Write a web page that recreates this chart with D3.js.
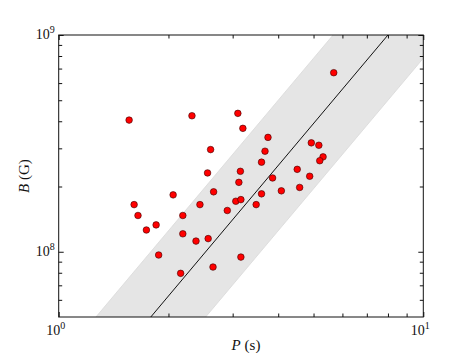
<!DOCTYPE html>
<html>
<head>
<meta charset="utf-8">
<script src="https://cdn.jsdelivr.net/npm/d3@7"></script>
<style>
	body { margin: 0; background: #fff; }
	svg text { font-family: 'Liberation Serif', 'DejaVu Serif', serif; fill: #111; }
</style>
</head>
<body>
<svg id="chart" width="471" height="353"></svg>
<script>
// spin period P (s)
const periods = [
	1.56, 2.32, 2.61, 2.56, 5.68, 3.10, 3.20, 3.75, 3.68, 3.60, 3.15,
	4.93, 5.17, 5.31, 5.20, 4.51, 4.88, 3.86, 2.06, 2.66, 1.61, 2.44,
	1.65, 2.19, 2.90, 1.85, 1.74, 2.19, 2.57, 2.38, 1.88, 2.65, 2.16,
	3.12, 3.60, 4.08, 4.58, 3.06, 3.16, 3.48, 3.16
]
// dipole field B (G)
const fields = [
	4.05e8, 4.24e8, 2.96e8, 2.31e8, 6.70e8, 4.35e8, 3.71e8, 3.37e8, 2.91e8, 2.59e8, 2.35e8,
	3.18e8, 3.10e8, 2.74e8, 2.63e8, 2.40e8, 2.23e8, 2.19e8, 1.83e8, 1.89e8, 1.65e8, 1.65e8,
	1.47e8, 1.47e8, 1.55e8, 1.33e8, 1.26e8, 1.21e8, 1.15e8, 1.12e8, 9.66e7, 8.50e7, 7.95e7,
	2.09e8, 1.85e8, 1.91e8, 1.98e8, 1.71e8, 1.74e8, 1.65e8, 9.45e7
]
// fit B = fitCoef * P^fitIndex, shaded band a factor bandFactor either side
const fitCoef = 1.5625e7
const fitIndex = 2
const bandFactor = 2

const xDomain = [1, 10]
const yDomain = [5e7, 1e9]
const xMajor = [1, 10]
const xMajorExp = ['0', '1']
const yMajor = [1e8, 1e9]
const yMajorExp = ['8', '9']
const xMinor = [2, 3, 4, 5, 6, 7, 8, 9]
const yMinor = [6e7, 7e7, 8e7, 9e7, 2e8, 3e8, 4e8, 5e8, 6e8, 7e8, 8e8, 9e8]

const margin = { top: 35, right: 47.7, bottom: 36, left: 58.7 }
const width = 471 - margin.left - margin.right
const height = 353 - margin.top - margin.bottom

const svg = d3.select('#chart')
const g = svg.append('g').attr('transform', `translate(${margin.left},${margin.top})`)

const x = d3.scaleLog().domain(xDomain).range([0, width])
const y = d3.scaleLog().domain(yDomain).range([height, 0])

g.append('clipPath').attr('id', 'clip')
	.append('rect').attr('width', width).attr('height', height)

const fit = (p, f) => fitCoef * f * Math.pow(p, fitIndex)
const line = d3.line().x(d => x(d[0])).y(d => y(d[1]))

// band
const bandPts = [
	[xDomain[0], fit(xDomain[0], bandFactor)],
	[xDomain[1], fit(xDomain[1], bandFactor)],
	[xDomain[1], fit(xDomain[1], 1 / bandFactor)],
	[xDomain[0], fit(xDomain[0], 1 / bandFactor)]
]
const plot = g.append('g').attr('clip-path', 'url(#clip)')
plot.append('path')
	.attr('d', line(bandPts) + 'Z')
	.attr('fill', '#e5e5e5')
	.attr('stroke', '#d9d9d9')
	.attr('stroke-width', 0.8)

plot.append('path')
	.attr('d', line([[xDomain[0], fit(xDomain[0], 1)], [xDomain[1], fit(xDomain[1], 1)]]))
	.attr('fill', 'none')
	.attr('stroke', '#111')
	.attr('stroke-width', 1)

// points
plot.selectAll('circle')
	.data(periods.map((p, i) => [p, fields[i]]))
	.enter()
	.append('circle')
	.attr('cx', d => x(d[0]))
	.attr('cy', d => y(d[1]))
	.attr('r', 3.3)
	.attr('fill', '#ff0000')
	.attr('stroke', '#3a0000')
	.attr('stroke-width', 0.6)

// ticks, inward on all four sides
const majorLen = 5, minorLen = 3.5
const axes = [
	{ axis: d3.axisBottom(x), tr: `translate(0,${height})`, dir: 1 },
	{ axis: d3.axisTop(x), tr: 'translate(0,0)', dir: 1 },
	{ axis: d3.axisLeft(y), tr: 'translate(0,0)', dir: 0 },
	{ axis: d3.axisRight(y), tr: `translate(${width},0)`, dir: 0 }
]
axes.forEach(a => {
	const major = a.dir ? xMajor : yMajor
	const minor = a.dir ? xMinor : yMinor
	g.append('g').attr('transform', a.tr)
		.call(a.axis.tickValues(minor).tickSize(-minorLen).tickFormat(''))
		.call(s => s.select('.domain').remove())
	g.append('g').attr('transform', a.tr)
		.call(a.axis.tickValues(major).tickSize(-majorLen).tickFormat(''))
		.call(s => s.select('.domain').remove())
})
g.selectAll('.tick line').attr('stroke', '#111').attr('stroke-width', 1)

g.append('rect')
	.attr('width', width).attr('height', height)
	.attr('fill', 'none').attr('stroke', '#111').attr('stroke-width', 1)

// tick labels
const powLabel = (sel, exp) => {
	sel.append('tspan').text('10')
	sel.append('tspan').attr('dy', -6).attr('font-size', 10).text(exp)
}
xMajor.forEach((v, i) => {
	const t = g.append('text')
		.attr('x', x(v) - 3).attr('y', height + 18)
		.attr('text-anchor', 'middle').attr('font-size', 14)
	powLabel(t, xMajorExp[i])
})
yMajor.forEach((v, i) => {
	const t = g.append('text')
		.attr('x', -4).attr('y', y(v) + 4)
		.attr('text-anchor', 'end').attr('font-size', 14)
	powLabel(t, yMajorExp[i])
})

// axis titles
const xt = g.append('text')
	.attr('x', width / 2 + 5).attr('y', height + 33)
	.attr('text-anchor', 'middle').attr('font-size', 15)
xt.append('tspan').attr('font-style', 'italic').text('P')
xt.append('tspan').text(' (s)')

const yt = g.append('text')
	.attr('transform', `translate(${-30},${height / 2}) rotate(-90)`)
	.attr('text-anchor', 'middle').attr('font-size', 15)
yt.append('tspan').attr('font-style', 'italic').text('B')
yt.append('tspan').text(' (G)')
</script>
</body>
</html>
